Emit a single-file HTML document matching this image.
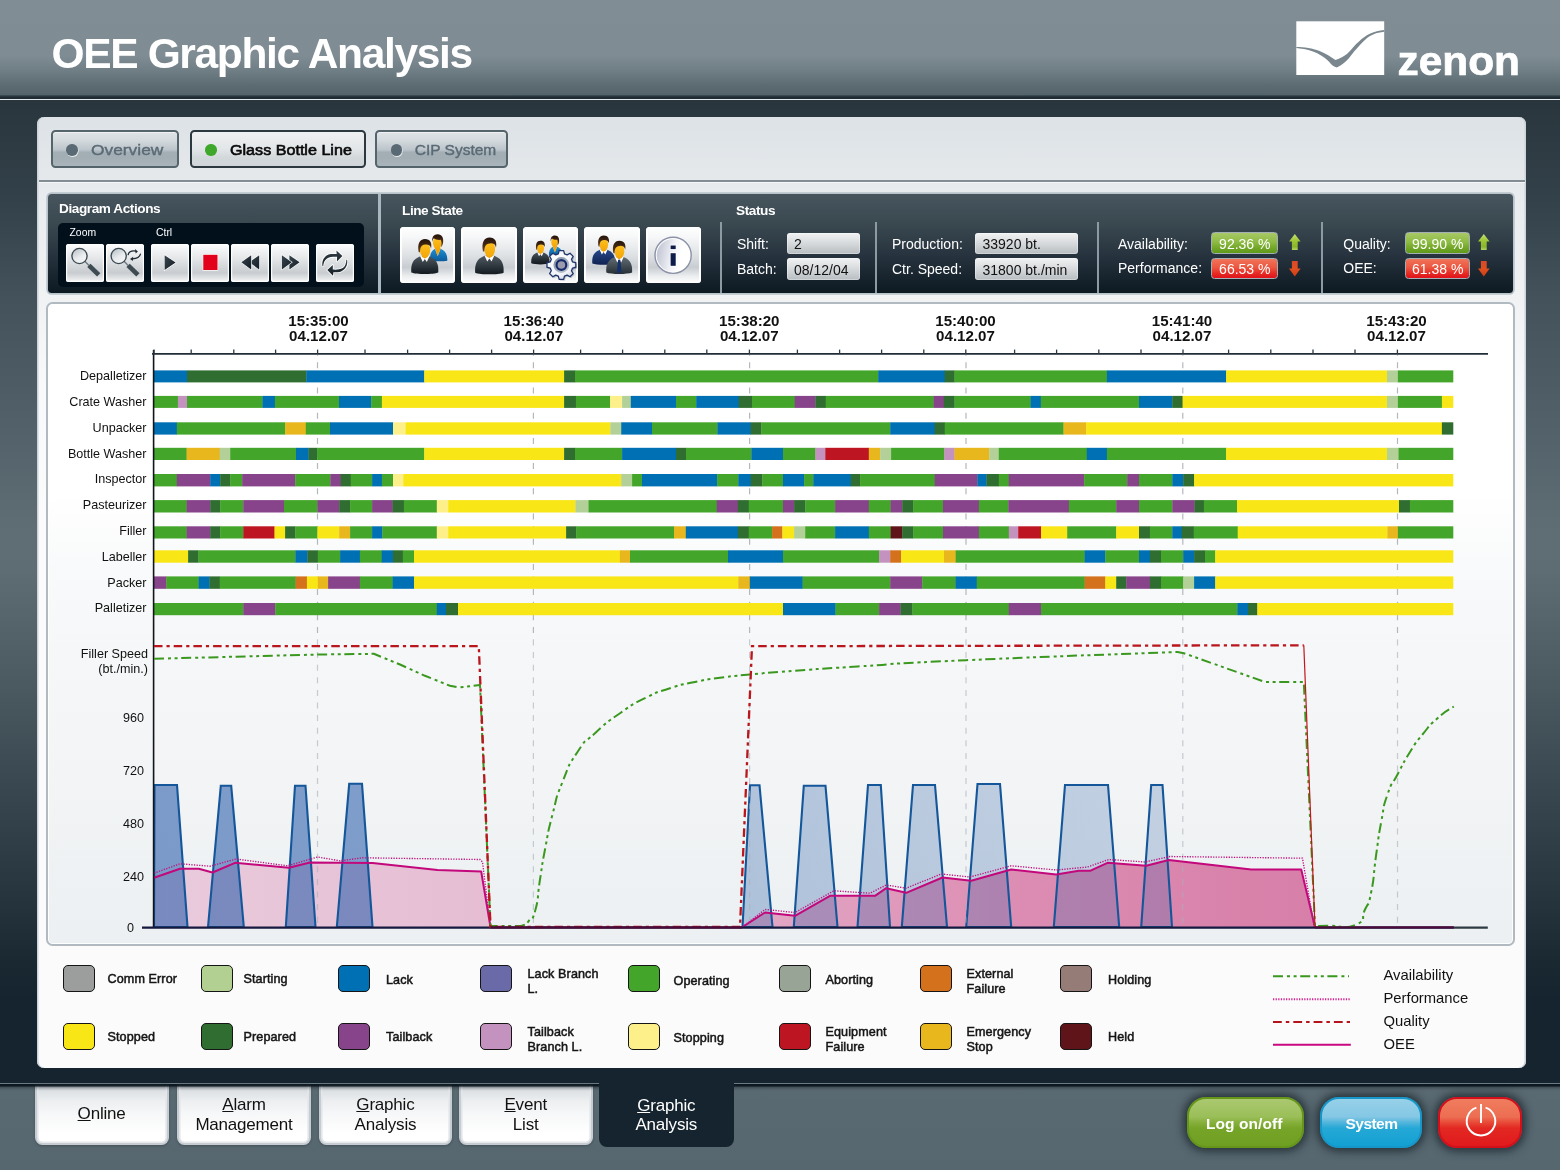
<!DOCTYPE html>
<html><head><meta charset="utf-8"><title>OEE Graphic Analysis</title>
<style>
html,body{margin:0;padding:0}
body{width:1560px;height:1170px;overflow:hidden;position:relative;background:#566770;font-family:"Liberation Sans",sans-serif;}
div,span{box-sizing:border-box}
#wrap{position:absolute;left:0;top:0;width:1560px;height:1170px;will-change:transform}
#hdr{position:absolute;left:0;top:0;width:1560px;height:96px;background:linear-gradient(#808d94 0,#7f8c93 56px,#6e7c83 72px,#5d6b72 85px,#54646b 96px)}
#hdrline1{position:absolute;left:0;top:95.3px;width:1560px;height:3.3px;background:linear-gradient(#46555d 0,#222f37 45%,#1c2931 100%)}
#hdrline2{position:absolute;left:0;top:98.5px;width:1560px;height:1.7px;background:#e3eaed}
#darkbg{position:absolute;left:0;top:100px;width:1560px;height:982.5px;background:linear-gradient(#28353d 0,#2a373f 12px,#33414a 100px,#44525b 200px,#4e5d65 290px,#5f6e75 430px,#5e6d74 470px,#4a5860 590px,#38464f 692px,#27353e 795px,#1a2832 863px,#15242e 900px,#15242e 100%)}
#botline{position:absolute;left:0;top:1082.6px;width:1560px;height:1.3px;background:#6a7c85}
#botshadow{position:absolute;left:0;top:1083.9px;width:1560px;height:7px;background:linear-gradient(rgba(8,18,26,.97) 0,rgba(10,20,28,.92) 2px,rgba(16,28,36,.35) 3.2px,rgba(20,32,40,.12) 5px,rgba(20,32,40,0) 100%)}
#botbar{position:absolute;left:0;top:1084px;width:1560px;height:86px;background:linear-gradient(#5a6a72,#566770)}
#title{position:absolute;left:51.5px;top:29.5px;font-size:42.5px;font-weight:bold;color:#fff;line-height:48px;white-space:nowrap;letter-spacing:-1.35px}
#panel{position:absolute;left:37px;top:117px;width:1489.3px;height:951px;border-radius:7px;background:linear-gradient(#dde2e6 0,#e5e9ec 64px,#e9ecee 80px,#f0f2f4 183px,#f8f9fb 273px,#fbfbfb 400px,#fbfbfb 100%);box-shadow:inset 1.5px 0 0 #cbd2d9,inset -1.5px 0 0 #cbd2d9}
.tab{position:absolute;top:130.1px;height:37.6px;border:2px solid #55636b;border-radius:4.5px;background:linear-gradient(#dfe3e6 0,#d3d9dd 25%,#bcc5cb 52%,#a3aeb5 60%,#a2adb4 75%,#aab4bb 100%);box-shadow:inset 0 1px 0 #eef1f2}
.tab.act{background:linear-gradient(#eef0f1 0,#e3e6e8 50%,#d3d8db 75%,#cfd5d8 100%);border-color:#2c3840;border-width:2px}
.tab .dot{position:absolute;left:13.4px;top:12.3px;width:11.4px;height:11.4px;border-radius:50%;background:#5a6a74;box-shadow:0.6px 1px 0 rgba(255,255,255,.75)}
.tab .dot.g{background:#3fa72a;left:13px;box-shadow:none}
.tab .tl{position:absolute;top:8px;font-size:15.5px;line-height:20px;color:#5a6a74;white-space:nowrap;-webkit-text-stroke:0.4px #5a6a74;transform-origin:0 50%}
.tab.act .tl{color:#0a0a0a;-webkit-text-stroke:0.65px #0a0a0a}
#sep1{position:absolute;left:38.5px;top:180.3px;width:1486.5px;height:2.4px;background:linear-gradient(#828d93 0,#828d93 54%,#f6f7f8 54%,#f6f7f8 100%)}
#toolbar{position:absolute;left:47px;top:193px;width:1467px;height:100.5px}
#tbbg{position:absolute;left:1px;top:0.5px;width:1465px;height:99.5px;border-radius:3.5px;background:linear-gradient(#47565e 0,#3a4850 30%,#283540 60%,#0c1922 100%);box-shadow:0 0 0 1.7px #b7c2c9}
.vs{position:absolute;width:2px;background:#8e9aa1}
.th{position:absolute;font-size:13.6px;line-height:16px;font-weight:bold;color:#fff;white-space:nowrap;letter-spacing:-0.42px}
.sm{position:absolute;font-size:10.4px;line-height:12px;color:#fff;white-space:nowrap}
#dabox{position:absolute;left:10.5px;top:30px;width:306.5px;height:63.5px;border-radius:5px;background:#02101c}
.sbtn{position:absolute;top:51px;width:38px;height:37.5px;border-radius:2.5px;background:linear-gradient(#ffffff 0,#f3f4f5 14%,#e4e6e8 38%,#d3d7da 60%,#c8ccd0 76%,#e2e4e6 90%,#f6f6f7 100%);box-shadow:inset 0 0 0 1.2px rgba(255,255,255,.92)}
.sbtn svg,.bbtn svg{position:absolute;left:0;top:0}
.bbtn{position:absolute;top:34px;width:55.5px;height:56px;border-radius:3.5px;background:linear-gradient(#ffffff 0,#f6f7f8 18%,#dfe2e5 50%,#c8cdd2 72%,#eceeef 88%,#ffffff 100%);box-shadow:inset 2px 0 0 rgba(255,255,255,.9),inset -2px 0 0 rgba(255,255,255,.9)}
.lb{position:absolute;font-size:14px;line-height:16px;color:#fff;white-space:nowrap}
.fld{position:absolute;height:21.5px;border-radius:3px;background:linear-gradient(#f1f2f3 0,#d9dcde 45%,#b7bdc1 100%);box-shadow:inset 0 0 0 1px rgba(255,255,255,.35)}
.fld span{position:absolute;left:8px;top:3.5px;font-size:14px;line-height:16px;color:#111;white-space:nowrap}
.bdg{position:absolute;height:21.5px;border-radius:3.5px;border:1.2px solid #a3aeb5;color:#fff;font-size:14px;line-height:21px;text-align:center;white-space:nowrap;padding-top:0.5px}
.bdg.gr{background:linear-gradient(#a8c966 0,#8ebb45 45%,#73a628 75%,#5f9a19 100%)}
.bdg.rd{background:linear-gradient(#f0755a 0,#eb5640 45%,#e52c24 75%,#e0121a 100%)}
#chart{position:absolute;left:45.6px;top:302.1px;width:1469.8px;height:643.7px;border-radius:6.5px;border:2px solid #b1bac1;background:linear-gradient(#ffffff 0,#ffffff 190px,#f9fafb 260px,#f6f7f8 345px,#f2f4f5 480px,#ecf0f2 100%);box-shadow:inset 0 0 0 1px rgba(255,255,255,.9)}
#csvg{position:absolute;left:0;top:0}
#csvg text{font-family:"Liberation Sans",sans-serif}
.lg{position:absolute;width:32px;height:26.5px;border:1.3px solid #151515;border-radius:5px}
.lt{position:absolute;font-size:12.6px;line-height:15px;font-weight:normal;color:#151515;white-space:nowrap;-webkit-text-stroke:0.5px #151515;letter-spacing:0.1px}
.ll{position:absolute;font-size:14.8px;line-height:18px;color:#111;white-space:nowrap}
.nb{position:absolute;top:1084px;height:61px;border-radius:0 0 7.5px 7.5px;background:linear-gradient(#c6ccd1 0,#dde1e4 12%,#eceef0 28%,#f6f7f8 50%,#ffffff 85%);border:2px solid #c6ccd1;border-top:none;box-shadow:inset 1.6px 0 0 #e2e6e9,inset -1.6px 0 0 #e2e6e9,inset 0 -1.6px 0 #e6e9eb,0 1px 3px rgba(0,0,0,.22);font-size:17px;line-height:19.5px;color:#111;text-align:center;letter-spacing:-0.2px}
.nb u{text-decoration-thickness:1.2px;text-underline-offset:1.2px}
.nb.act{background:#15242e;border:none;top:1082px;height:65px;color:#fff;border-radius:0 0 8px 8px;box-shadow:none}
.rb{position:absolute;top:1096.8px;height:50.8px;border-radius:19px;color:#fff;font-weight:bold;font-size:15.5px;text-align:center;line-height:50px;box-shadow:0 0 8px 3.5px rgba(16,26,32,.68)}

</style></head>
<body>
<div id="wrap">

<div id="hdr"></div>
<div id="hdrline1"></div><div id="hdrline2"></div>
<div id="darkbg"></div>
<div id="botline"></div>
<div id="botbar"></div>
<div id="title">OEE Graphic Analysis</div>

<svg id="logo" width="240" height="70" viewBox="1290 15 240 70" style="position:absolute;left:1290px;top:15px">
<rect x="1296.3" y="21.3" width="87.9" height="53.7" fill="#fff"/>
<path d="M1296.3,47 C1304,47 1313,48.5 1319,50.8 C1326,53.8 1331,57 1335.5,60 C1340,58.5 1344,56.5 1347.5,53.5 C1352,49 1355,44.5 1359,41.5 C1366,34.5 1374,31 1384.2,30 L1384.2,31.7 C1376,32.5 1370.5,35 1366,39 C1361,43.5 1357.5,48 1354.5,51 C1350,57 1345,64 1336.7,67.5 C1333,66.5 1331,64.5 1329.5,62.3 C1327,59.5 1324,57.5 1321.5,55.8 C1316,52.2 1310,50 1304,49 C1301,48.5 1298.5,48.2 1296.3,48 Z" fill="#7a878e"/>
<text x="1397.5" y="74.7" font-family="Liberation Sans,sans-serif" font-weight="bold" font-size="41.5" fill="#fff" stroke="#fff" stroke-width="0.7" textLength="122.5" lengthAdjust="spacingAndGlyphs">zenon</text>
</svg>
<div id="panel"></div>
<div class="tab" style="left:51.1px;width:127.6px"><span class="dot"></span><span class="tl" style="left:38px;transform:scaleX(1.12)">Overview</span></div>
<div class="tab act" style="left:190.4px;width:175.3px"><span class="dot g"></span><span class="tl" style="left:37.8px;transform:scaleX(1.04)">Glass Bottle Line</span></div>
<div class="tab" style="left:375.4px;width:132.2px"><span class="dot"></span><span class="tl" style="left:37.3px;transform:scaleX(1.0)">CIP System</span></div>
<div id="sep1"></div>
<div id="toolbar"><div id="tbbg"></div>
<div class="vs" style="left:331.3px;top:0.5px;height:99.5px;width:2.5px;background:#a9b7c0"></div>
<div class="vs" style="left:672.5px;top:29px;height:71px"></div>
<div class="vs" style="left:828px;top:29px;height:71px"></div>
<div class="vs" style="left:1049.5px;top:29px;height:71px"></div>
<div class="vs" style="left:1273.5px;top:29px;height:71px"></div>
<div class="th" style="left:12px;top:8px">Diagram Actions</div>
<div class="th" style="left:355px;top:10px">Line State</div>
<div class="th" style="left:689px;top:10px">Status</div>
<div id="dabox"></div>
<div class="sm" style="left:22.5px;top:34px">Zoom</div>
<div class="sm" style="left:109px;top:34px">Ctrl</div>
<div class="sbtn" style="left:19px"><svg width="38" height="38" viewBox="0 0 38 38"><defs><linearGradient id="gl135" x1="0.2" y1="0" x2="0.8" y2="1"><stop offset="0" stop-color="#b9c1c6"/><stop offset=".55" stop-color="#e9ecee"/><stop offset="1" stop-color="#f6f7f8"/></linearGradient></defs><line x1="18.6" y1="17.0" x2="23.0" y2="21.4" stroke="#6d7a82" stroke-width="1.4"/><line x1="22.9" y1="21.4" x2="32.7" y2="30.9" stroke="#3e4b53" stroke-width="4.7" stroke-linecap="butt"/><circle cx="13.5" cy="12.0" r="7.6" fill="url(#gl135)" stroke="#3b4850" stroke-width="1.35"/></svg></div>
<div class="sbtn" style="left:59px"><svg width="38" height="38" viewBox="0 0 38 38"><defs><linearGradient id="gl127" x1="0.2" y1="0" x2="0.8" y2="1"><stop offset="0" stop-color="#b9c1c6"/><stop offset=".55" stop-color="#e9ecee"/><stop offset="1" stop-color="#f6f7f8"/></linearGradient></defs><line x1="17.8" y1="17.0" x2="22.2" y2="21.4" stroke="#6d7a82" stroke-width="1.4"/><line x1="22.1" y1="21.4" x2="31.9" y2="30.9" stroke="#3e4b53" stroke-width="4.7" stroke-linecap="butt"/><circle cx="12.7" cy="12.0" r="7.6" fill="url(#gl127)" stroke="#3b4850" stroke-width="1.35"/><g fill="none" stroke="#1f2a32" stroke-width="1.25" stroke-linecap="round"><path d="M22.1,10.7 C22.9,8.2 25.6,6.6 29.6,7.1"/><path d="M34.4,10.2 C33.8,12.9 31,14.8 26.4,14.8"/></g><polygon points="29.0,4.9 31.9,7.5 29.7,9.4" fill="#1f2a32"/><polygon points="27.2,12.7 24.0,14.9 26.9,17.0" fill="#1f2a32"/></svg></div>
<div class="sbtn" style="left:103.8px"><svg width="38" height="38" viewBox="0 0 38 38"><defs><linearGradient id="tg" x1="0" y1="0" x2="1" y2="1"><stop offset="0" stop-color="#3a4750"/><stop offset="1" stop-color="#121b23"/></linearGradient></defs><polygon points="13.6,11.2 13.6,26 24.6,18.5" fill="url(#tg)" stroke="#fff" stroke-width="1.2" stroke-linejoin="miter" paint-order="stroke"/></svg></div>
<div class="sbtn" style="left:143.7px"><svg width="38" height="38" viewBox="0 0 38 38"><rect x="12.3" y="10.8" width="14.2" height="15.2" fill="#e2001a" stroke="#fff" stroke-width="1.2" paint-order="stroke"/></svg></div>
<div class="sbtn" style="left:184px"><svg width="38" height="38" viewBox="0 0 38 38"><defs><linearGradient id="tg" x1="0" y1="0" x2="1" y2="1"><stop offset="0" stop-color="#3a4750"/><stop offset="1" stop-color="#121b23"/></linearGradient></defs><polygon points="18.4,18.3 28.2,11.2 28.2,25.4" fill="url(#tg)" stroke="#fff" stroke-width="1.2" stroke-linejoin="miter" paint-order="stroke"/><polygon points="10.3,18.3 20.2,11.2 20.2,25.4" fill="url(#tg)" stroke="#fff" stroke-width="1.2" stroke-linejoin="miter" paint-order="stroke"/></svg></div>
<div class="sbtn" style="left:223.8px"><svg width="38" height="38" viewBox="0 0 38 38"><defs><linearGradient id="tg" x1="0" y1="0" x2="1" y2="1"><stop offset="0" stop-color="#3a4750"/><stop offset="1" stop-color="#121b23"/></linearGradient></defs><polygon points="18.4,11.2 18.4,25.4 28.6,18.3" fill="url(#tg)" stroke="#fff" stroke-width="1.2" stroke-linejoin="miter" paint-order="stroke"/><polygon points="10.9,11.2 10.9,25.4 20.7,18.3" fill="url(#tg)" stroke="#fff" stroke-width="1.2" stroke-linejoin="miter" paint-order="stroke"/></svg></div>
<div class="sbtn" style="left:268.7px"><svg width="38" height="38" viewBox="0 0 38 38"><defs><linearGradient id="rg" x1="0" y1="0" x2="0" y2="1"><stop offset="0" stop-color="#333f48"/><stop offset="1" stop-color="#151e26"/></linearGradient></defs><path d="M6.5,22.2 C5.6,17 8,12.6 12.5,10.6 C15,9.7 18,10 20.7,10 L20.4,6.4 L26.4,12 L20.9,17.5 L21.1,12.8 C18,12.6 14.5,12.6 11,14.4 C8.5,16 7.3,19 7.2,22.2 Z" fill="url(#rg)" stroke="#fff" stroke-width="1.6" stroke-linejoin="round" paint-order="stroke"/><path d="M31.1,15.8 C32,21 29.6,25.4 25.1,27.4 C22.6,28.3 19.6,28.2 17.4,28.2 L17,31.8 L11.3,26.1 L16.8,20.9 L16.8,25.6 C19.9,25.8 23.4,25.8 26.9,24 C29.4,22.4 30.2,19.4 30.3,15.8 Z" fill="url(#rg)" stroke="#fff" stroke-width="1.6" stroke-linejoin="round" paint-order="stroke"/></svg></div>
<div class="bbtn" style="left:352.7px"><svg width="56" height="56" viewBox="0 0 56 56"><defs><linearGradient id="bga1" x1="0" y1="0" x2="0" y2="1"><stop offset="0" stop-color="#1f8fd0"/><stop offset="1" stop-color="#0a5a9c"/></linearGradient><linearGradient id="ha1" x1="0" y1="0" x2="0" y2="1"><stop offset="0" stop-color="#24130a"/><stop offset=".6" stop-color="#4a2c17"/><stop offset="1" stop-color="#6e4927"/></linearGradient><linearGradient id="fa1" x1="0" y1="0" x2="0" y2="1"><stop offset="0" stop-color="#fdc323"/><stop offset="1" stop-color="#f4a605"/></linearGradient></defs><path d="M29.89,33.73 C29.66,27.88 31.06,23.98 34.96,21.87 L37.69,29.05 L40.58,21.87 C45.10,23.59 47.60,27.10 47.28,33.73 C43.54,34.43 34.18,34.43 29.89,33.73 Z" fill="url(#bga1)"/><path d="M34.96,21.87 L37.69,29.05 L40.58,21.87 L39.33,18.52 L35.74,18.52 Z" fill="#f2a40a"/><ellipse cx="37.30" cy="15.87" rx="4.37" ry="6.08" fill="url(#fa1)"/><path d="M32.31,15.01 C31.53,10.33 33.79,7.37 37.69,7.37 C41.98,7.37 43.85,11.11 43.07,15.79 C42.76,18.13 41.82,19.46 40.89,20.08 C41.67,17.35 41.67,14.62 40.73,12.75 C38.47,13.22 35.35,12.44 33.87,11.19 C32.93,12.12 32.46,13.45 32.31,15.01 Z" fill="url(#ha1)"/><defs><linearGradient id="bga2" x1="0" y1="0" x2="0" y2="1"><stop offset="0" stop-color="#4d575e"/><stop offset="1" stop-color="#121a20"/></linearGradient><linearGradient id="ha2" x1="0" y1="0" x2="0" y2="1"><stop offset="0" stop-color="#24130a"/><stop offset=".6" stop-color="#4a2c17"/><stop offset="1" stop-color="#6e4927"/></linearGradient><linearGradient id="fa2" x1="0" y1="0" x2="0" y2="1"><stop offset="0" stop-color="#fdc323"/><stop offset="1" stop-color="#f4a605"/></linearGradient></defs><path d="M11.31,45.41 C10.76,37.51 12.71,32.40 19.22,29.70 L20.52,29.14 L29.08,29.14 L30.38,29.70 C36.89,32.40 38.84,37.51 38.29,45.41 C33.17,47.46 16.43,47.46 11.31,45.41 Z" fill="url(#bga2)"/><path d="M19.96,28.77 L22.75,34.91 L24.80,31.93 L26.85,34.91 L29.64,28.77 L24.80,30.07 Z" fill="#fff"/><path d="M22.01,26.35 L27.59,26.35 L27.59,30.07 L24.80,31.56 L22.01,30.07 Z" fill="#e79c0c"/><ellipse cx="25.08" cy="23.00" rx="5.12" ry="7.53" fill="url(#fa2)"/><path d="M18.66,25.05 C17.17,17.05 19.69,12.12 24.99,12.12 C30.19,12.12 32.24,16.12 31.03,21.70 C30.57,18.91 28.89,17.42 25.54,17.61 C22.38,17.70 20.62,19.28 20.24,22.16 C20.06,23.56 20.06,24.49 19.87,25.61 Z" fill="url(#ha2)"/></svg></div>
<div class="bbtn" style="left:414px"><svg width="56" height="56" viewBox="0 0 56 56"><defs><linearGradient id="bgb1" x1="0" y1="0" x2="0" y2="1"><stop offset="0" stop-color="#525c63"/><stop offset="1" stop-color="#131b21"/></linearGradient><linearGradient id="hb1" x1="0" y1="0" x2="0" y2="1"><stop offset="0" stop-color="#24130a"/><stop offset=".6" stop-color="#4a2c17"/><stop offset="1" stop-color="#6e4927"/></linearGradient><linearGradient id="fb1" x1="0" y1="0" x2="0" y2="1"><stop offset="0" stop-color="#fdc323"/><stop offset="1" stop-color="#f4a605"/></linearGradient></defs><path d="M14.19,45.69 C13.60,37.36 15.66,31.97 22.52,29.13 L23.89,28.54 L32.91,28.54 L34.28,29.13 C41.14,31.97 43.20,37.36 42.61,45.69 C37.22,47.85 19.58,47.85 14.19,45.69 Z" fill="url(#bgb1)"/><path d="M23.30,28.15 L26.24,34.62 L28.40,31.48 L30.56,34.62 L33.50,28.15 L28.40,29.52 Z" fill="#fff"/><path d="M25.46,25.60 L31.34,25.60 L31.34,29.52 L28.40,31.09 L25.46,29.52 Z" fill="#e79c0c"/><ellipse cx="28.69" cy="22.07" rx="5.39" ry="7.94" fill="url(#fb1)"/><path d="M21.93,24.23 C20.36,15.80 23.01,10.61 28.60,10.61 C34.08,10.61 36.24,14.82 34.97,20.70 C34.48,17.76 32.71,16.19 29.18,16.39 C25.85,16.49 23.99,18.15 23.60,21.19 C23.40,22.66 23.40,23.64 23.21,24.82 Z" fill="url(#hb1)"/></svg></div>
<div class="bbtn" style="left:475.6px"><svg width="56" height="56" viewBox="0 0 56 56"><defs><linearGradient id="bgc1" x1="0" y1="0" x2="0" y2="1"><stop offset="0" stop-color="#1f8fd0"/><stop offset="1" stop-color="#0a5a9c"/></linearGradient><linearGradient id="hc1" x1="0" y1="0" x2="0" y2="1"><stop offset="0" stop-color="#24130a"/><stop offset=".6" stop-color="#4a2c17"/><stop offset="1" stop-color="#6e4927"/></linearGradient><linearGradient id="fc1" x1="0" y1="0" x2="0" y2="1"><stop offset="0" stop-color="#fdc323"/><stop offset="1" stop-color="#f4a605"/></linearGradient></defs><path d="M25.90,28.80 C25.72,24.30 26.80,21.30 29.80,19.68 L31.90,25.20 L34.12,19.68 C37.60,21.00 39.52,23.70 39.28,28.80 C36.40,29.34 29.20,29.34 25.90,28.80 Z" fill="url(#bgc1)"/><path d="M29.80,19.68 L31.90,25.20 L34.12,19.68 L33.16,17.10 L30.40,17.10 Z" fill="#f2a40a"/><ellipse cx="31.60" cy="15.06" rx="3.36" ry="4.68" fill="url(#fc1)"/><path d="M27.76,14.40 C27.16,10.80 28.90,8.52 31.90,8.52 C35.20,8.52 36.64,11.40 36.04,15.00 C35.80,16.80 35.08,17.82 34.36,18.30 C34.96,16.20 34.96,14.10 34.24,12.66 C32.50,13.02 30.10,12.42 28.96,11.46 C28.24,12.18 27.88,13.20 27.76,14.40 Z" fill="url(#hc1)"/><defs><linearGradient id="bgc2" x1="0" y1="0" x2="0" y2="1"><stop offset="0" stop-color="#4a545b"/><stop offset="1" stop-color="#10171d"/></linearGradient><linearGradient id="hc2" x1="0" y1="0" x2="0" y2="1"><stop offset="0" stop-color="#24130a"/><stop offset=".6" stop-color="#4a2c17"/><stop offset="1" stop-color="#6e4927"/></linearGradient><linearGradient id="fc2" x1="0" y1="0" x2="0" y2="1"><stop offset="0" stop-color="#fdc323"/><stop offset="1" stop-color="#f4a605"/></linearGradient></defs><path d="M8.26,36.36 C7.89,31.01 9.21,27.55 13.62,25.72 L14.50,25.34 L20.30,25.34 L21.18,25.72 C25.59,27.55 26.91,31.01 26.53,36.36 C23.07,37.75 11.73,37.75 8.26,36.36 Z" fill="url(#bgc2)"/><path d="M14.12,25.09 L16.01,29.25 L17.40,27.23 L18.79,29.25 L20.68,25.09 L17.40,25.97 Z" fill="#fff"/><path d="M15.51,23.45 L19.29,23.45 L19.29,25.97 L17.40,26.98 L15.51,25.97 Z" fill="#e79c0c"/><ellipse cx="17.59" cy="21.18" rx="3.46" ry="5.10" fill="url(#fc2)"/><path d="M13.24,22.57 C12.23,17.15 13.93,13.81 17.53,13.81 C21.05,13.81 22.44,16.52 21.62,20.30 C21.31,18.41 20.17,17.40 17.90,17.53 C15.76,17.59 14.56,18.66 14.31,20.62 C14.19,21.56 14.19,22.19 14.06,22.95 Z" fill="url(#hc2)"/><defs><radialGradient id="gg" cx=".38" cy=".32" r=".85"><stop offset="0" stop-color="#ffffff"/><stop offset=".62" stop-color="#f1f3f7"/><stop offset="1" stop-color="#bcc4d6"/></radialGradient><linearGradient id="gr2" x1="0" y1="0" x2="1" y2="1"><stop offset="0" stop-color="#7f8ca3"/><stop offset="1" stop-color="#c3cad6"/></linearGradient></defs><polygon points="49.58,34.91 52.82,35.75 52.82,40.25 49.58,41.09 48.49,43.72 50.19,46.61 47.01,49.79 44.12,48.09 41.49,49.18 40.65,52.42 36.15,52.42 35.31,49.18 32.68,48.09 29.79,49.79 26.61,46.61 28.31,43.72 27.22,41.09 23.98,40.25 23.98,35.75 27.22,34.91 28.31,32.28 26.61,29.39 29.79,26.21 32.68,27.91 35.31,26.82 36.15,23.58 40.65,23.58 41.49,26.82 44.12,27.91 47.01,26.21 50.19,29.39 48.49,32.28" fill="rgba(60,70,110,.25)" transform="translate(1.2,1.4)"/><polygon points="49.58,34.91 52.82,35.75 52.82,40.25 49.58,41.09 48.49,43.72 50.19,46.61 47.01,49.79 44.12,48.09 41.49,49.18 40.65,52.42 36.15,52.42 35.31,49.18 32.68,48.09 29.79,49.79 26.61,46.61 28.31,43.72 27.22,41.09 23.98,40.25 23.98,35.75 27.22,34.91 28.31,32.28 26.61,29.39 29.79,26.21 32.68,27.91 35.31,26.82 36.15,23.58 40.65,23.58 41.49,26.82 44.12,27.91 47.01,26.21 50.19,29.39 48.49,32.28" fill="url(#gg)" stroke="#22356b" stroke-width="1.3" stroke-linejoin="round"/><circle cx="38.4" cy="38.0" r="6.9" fill="none" stroke="url(#gr2)" stroke-width="2.1"/><circle cx="38.4" cy="38.0" r="4.9" fill="#9c9bae" stroke="#15296a" stroke-width="2.2"/></svg></div>
<div class="bbtn" style="left:537.1px"><svg width="56" height="56" viewBox="0 0 56 56"><defs><linearGradient id="bgd1" x1="0" y1="0" x2="0" y2="1"><stop offset="0" stop-color="#27488a"/><stop offset="1" stop-color="#0f2352"/></linearGradient><linearGradient id="hd1" x1="0" y1="0" x2="0" y2="1"><stop offset="0" stop-color="#24130a"/><stop offset=".6" stop-color="#4a2c17"/><stop offset="1" stop-color="#6e4927"/></linearGradient><linearGradient id="fd1" x1="0" y1="0" x2="0" y2="1"><stop offset="0" stop-color="#fdc323"/><stop offset="1" stop-color="#f4a605"/></linearGradient></defs><path d="M8.29,36.39 C7.82,29.76 9.46,25.47 14.92,23.21 L16.01,22.74 L23.19,22.74 L24.28,23.21 C29.74,25.47 31.38,29.76 30.91,36.39 C26.62,38.11 12.58,38.11 8.29,36.39 Z" fill="url(#bgd1)"/><path d="M15.54,22.43 L17.88,27.58 L19.60,25.08 L21.32,27.58 L23.66,22.43 L19.60,23.52 Z" fill="#fff"/><path d="M17.26,20.40 L21.94,20.40 L21.94,23.52 L19.60,24.77 L17.26,23.52 Z" fill="#e79c0c"/><ellipse cx="19.83" cy="17.59" rx="4.29" ry="6.32" fill="url(#fd1)"/><path d="M14.45,19.31 C13.20,12.60 15.31,8.47 19.76,8.47 C24.12,8.47 25.84,11.82 24.83,16.50 C24.44,14.16 23.03,12.91 20.22,13.07 C17.57,13.15 16.09,14.47 15.78,16.89 C15.62,18.06 15.62,18.84 15.47,19.78 Z" fill="url(#hd1)"/><defs><linearGradient id="bgd2" x1="0" y1="0" x2="0" y2="1"><stop offset="0" stop-color="#626d74"/><stop offset="1" stop-color="#262f35"/></linearGradient><linearGradient id="hd2" x1="0" y1="0" x2="0" y2="1"><stop offset="0" stop-color="#24130a"/><stop offset=".6" stop-color="#4a2c17"/><stop offset="1" stop-color="#6e4927"/></linearGradient><linearGradient id="fd2" x1="0" y1="0" x2="0" y2="1"><stop offset="0" stop-color="#fdc323"/><stop offset="1" stop-color="#f4a605"/></linearGradient></defs><path d="M22.30,45.49 C21.76,37.93 23.63,33.04 29.86,30.45 L31.11,29.92 L39.29,29.92 L40.54,30.45 C46.77,33.04 48.64,37.93 48.11,45.49 C43.21,47.45 27.19,47.45 22.30,45.49 Z" fill="url(#bgd2)"/><path d="M30.57,29.56 L33.24,35.44 L35.20,32.59 L37.16,35.44 L39.83,29.56 L35.20,30.81 Z" fill="#fff"/><path d="M34.13,32.77 L36.27,32.77 L37.43,44.16 L35.20,46.83 L32.98,44.16 Z" fill="#14306a"/><path d="M32.53,27.25 L37.87,27.25 L37.87,30.81 L35.20,32.23 L32.53,30.81 Z" fill="#e79c0c"/><ellipse cx="35.47" cy="24.05" rx="4.90" ry="7.21" fill="url(#fd2)"/><path d="M29.33,26.00 C27.90,18.35 30.31,13.63 35.38,13.63 C40.36,13.63 42.32,17.46 41.16,22.80 C40.72,20.13 39.12,18.71 35.91,18.88 C32.89,18.97 31.20,20.49 30.84,23.25 C30.66,24.58 30.66,25.47 30.48,26.54 Z" fill="url(#hd2)"/></svg></div>
<div class="bbtn" style="left:598.6px"><svg width="56" height="56" viewBox="0 0 56 56"><defs><linearGradient id="ig" x1="0" y1="0.3" x2="1" y2="0.5"><stop offset="0" stop-color="#bfc3d2"/><stop offset=".5" stop-color="#f2f3f7"/><stop offset=".75" stop-color="#ffffff"/></linearGradient></defs><circle cx="27.1" cy="28.3" r="18.1" fill="#fff" stroke="#8b91a6" stroke-width="1.4"/><circle cx="27.1" cy="28.3" r="16.4" fill="url(#ig)"/><rect x="24.6" y="18.5" width="5.1" height="3.6" fill="#0d1c49" stroke="#fff" stroke-width="1.4" paint-order="stroke"/><rect x="24.6" y="26.2" width="5.1" height="12.6" fill="#0d1c49" stroke="#fff" stroke-width="1.4" paint-order="stroke"/></svg></div>
<div class="lb" style="left:690px;top:43px">Shift:</div>
<div class="lb" style="left:690px;top:67.5px">Batch:</div>
<div class="lb" style="left:845px;top:43px">Production:</div>
<div class="lb" style="left:845px;top:67.5px">Ctr. Speed:</div>
<div class="lb" style="left:1071px;top:43px">Availability:</div>
<div class="lb" style="left:1071px;top:67px">Performance:</div>
<div class="lb" style="left:1296.3px;top:43px">Quality:</div>
<div class="lb" style="left:1296.3px;top:67px">OEE:</div>
<div class="fld" style="left:740px;top:39.5px;width:72.5px"><span style="left:7px">2</span></div>
<div class="fld" style="left:740px;top:65px;width:72.5px"><span style="left:7px">08/12/04</span></div>
<div class="fld" style="left:927.5px;top:39.5px;width:103.5px"><span style="left:8px">33920 bt.</span></div>
<div class="fld" style="left:927.5px;top:65px;width:103.5px"><span style="left:8px">31800 bt./min</span></div>
<div class="bdg gr" style="left:1164.3px;top:39.3px;width:67px">92.36 %</div>
<div class="bdg rd" style="left:1164.3px;top:64.8px;width:67px">66.53 %</div>
<div class="bdg gr" style="left:1358.4px;top:39.3px;width:64.6px">99.90 %</div>
<div class="bdg rd" style="left:1358.4px;top:64.8px;width:64.6px">61.38 %</div>
<svg width="12" height="17" style="position:absolute;left:1241.6px;top:40.9px"><defs><linearGradient id="ag" x1="0" y1="0" x2="0" y2="1"><stop offset="0" stop-color="#c3de72"/><stop offset=".45" stop-color="#9cc533"/><stop offset=".8" stop-color="#8ab52a"/><stop offset="1" stop-color="#b4d562"/></linearGradient></defs><polygon points="5.8,0 11.6,7.4 8.7,7.4 8.7,16 2.9,16 2.9,7.4 0,7.4" fill="url(#ag)"/></svg>
<svg width="12" height="17" style="position:absolute;left:1241.6px;top:67.9px"><defs><linearGradient id="ar" x1="0" y1="0" x2="0" y2="1"><stop offset="0" stop-color="#d9482a"/><stop offset=".5" stop-color="#e0501f"/><stop offset="1" stop-color="#cf3a14"/></linearGradient></defs><polygon points="2.9,0 8.7,0 8.7,7.6 11.6,7.6 5.8,15.6 0,7.6 2.9,7.6" fill="url(#ar)"/></svg>
<svg width="12" height="17" style="position:absolute;left:1430.6px;top:40.9px"><defs><linearGradient id="ag" x1="0" y1="0" x2="0" y2="1"><stop offset="0" stop-color="#c3de72"/><stop offset=".45" stop-color="#9cc533"/><stop offset=".8" stop-color="#8ab52a"/><stop offset="1" stop-color="#b4d562"/></linearGradient></defs><polygon points="5.8,0 11.6,7.4 8.7,7.4 8.7,16 2.9,16 2.9,7.4 0,7.4" fill="url(#ag)"/></svg>
<svg width="12" height="17" style="position:absolute;left:1430.6px;top:67.9px"><defs><linearGradient id="ar" x1="0" y1="0" x2="0" y2="1"><stop offset="0" stop-color="#d9482a"/><stop offset=".5" stop-color="#e0501f"/><stop offset="1" stop-color="#cf3a14"/></linearGradient></defs><polygon points="2.9,0 8.7,0 8.7,7.6 11.6,7.6 5.8,15.6 0,7.6 2.9,7.6" fill="url(#ar)"/></svg>
</div><div id="chart"></div><svg id="csvg" width="1560" height="960" viewBox="0 0 1560 960">
<defs>
<linearGradient id="pinkg" gradientUnits="userSpaceOnUse" x1="154" y1="0" x2="1315" y2="0">
<stop offset="0" stop-color="#e9cbdc"/><stop offset=".29" stop-color="#e6bdd3"/><stop offset=".5" stop-color="#e3a9c6"/><stop offset=".75" stop-color="#dc8cb2"/><stop offset="1" stop-color="#d77fa8"/></linearGradient>
<linearGradient id="blueg" gradientUnits="userSpaceOnUse" x1="154" y1="0" x2="1172" y2="0">
<stop offset="0" stop-color="#2d5fac" stop-opacity=".6"/><stop offset=".22" stop-color="#2d5fac" stop-opacity=".58"/><stop offset=".57" stop-color="#2a60a7" stop-opacity=".33"/><stop offset=".8" stop-color="#2d5fa5" stop-opacity=".27"/><stop offset="1" stop-color="#2d5fa5" stop-opacity=".24"/></linearGradient>
</defs>
<text x="318.5" y="325.7" text-anchor="middle" font-size="15.1" font-weight="bold" fill="#111">15:35:00</text>
<text x="318.5" y="340.9" text-anchor="middle" font-size="15.1" font-weight="bold" fill="#111">04.12.07</text>
<text x="533.8" y="325.7" text-anchor="middle" font-size="15.1" font-weight="bold" fill="#111">15:36:40</text>
<text x="533.8" y="340.9" text-anchor="middle" font-size="15.1" font-weight="bold" fill="#111">04.12.07</text>
<text x="749.3" y="325.7" text-anchor="middle" font-size="15.1" font-weight="bold" fill="#111">15:38:20</text>
<text x="749.3" y="340.9" text-anchor="middle" font-size="15.1" font-weight="bold" fill="#111">04.12.07</text>
<text x="965.5" y="325.7" text-anchor="middle" font-size="15.1" font-weight="bold" fill="#111">15:40:00</text>
<text x="965.5" y="340.9" text-anchor="middle" font-size="15.1" font-weight="bold" fill="#111">04.12.07</text>
<text x="1182" y="325.7" text-anchor="middle" font-size="15.1" font-weight="bold" fill="#111">15:41:40</text>
<text x="1182" y="340.9" text-anchor="middle" font-size="15.1" font-weight="bold" fill="#111">04.12.07</text>
<text x="1396.5" y="325.7" text-anchor="middle" font-size="15.1" font-weight="bold" fill="#111">15:43:20</text>
<text x="1396.5" y="340.9" text-anchor="middle" font-size="15.1" font-weight="bold" fill="#111">04.12.07</text>
<line x1="317.5" y1="355" x2="317.5" y2="640" stroke="#b4b8bc" stroke-width="1.2" stroke-dasharray="6,6.6" stroke-dashoffset="5.3"/>
<line x1="533.4" y1="355" x2="533.4" y2="640" stroke="#b4b8bc" stroke-width="1.2" stroke-dasharray="6,6.6" stroke-dashoffset="5.3"/>
<line x1="749.6" y1="355" x2="749.6" y2="640" stroke="#b4b8bc" stroke-width="1.2" stroke-dasharray="6,6.6" stroke-dashoffset="5.3"/>
<line x1="966" y1="355" x2="966" y2="640" stroke="#b4b8bc" stroke-width="1.2" stroke-dasharray="6,6.6" stroke-dashoffset="5.3"/>
<line x1="1182.8" y1="355" x2="1182.8" y2="640" stroke="#b4b8bc" stroke-width="1.2" stroke-dasharray="6,6.6" stroke-dashoffset="5.3"/>
<line x1="1397.5" y1="355" x2="1397.5" y2="640" stroke="#b4b8bc" stroke-width="1.2" stroke-dasharray="6,6.6" stroke-dashoffset="5.3"/>
<rect x="154" y="370.4" width="33.3" height="12" fill="#0070b4"/>
<rect x="187" y="370.4" width="119.6" height="12" fill="#2f6e30"/>
<rect x="306.3" y="370.4" width="118.2" height="12" fill="#0070b4"/>
<rect x="424.2" y="370.4" width="140.2" height="12" fill="#f9e616"/>
<rect x="564.1" y="370.4" width="11.2" height="12" fill="#2f6e30"/>
<rect x="575" y="370.4" width="303.5" height="12" fill="#43a62a"/>
<rect x="878.2" y="370.4" width="66.8" height="12" fill="#0070b4"/>
<rect x="944.7" y="370.4" width="10.1" height="12" fill="#2f6e30"/>
<rect x="954.5" y="370.4" width="152.7" height="12" fill="#43a62a"/>
<rect x="1106.9" y="370.4" width="119.5" height="12" fill="#0070b4"/>
<rect x="1226.1" y="370.4" width="161.2" height="12" fill="#f9e616"/>
<rect x="1387" y="370.4" width="11.2" height="12" fill="#b3d098"/>
<rect x="1397.9" y="370.4" width="55.4" height="12" fill="#43a62a"/>
<text x="146.5" y="380.2" text-anchor="end" font-size="12.6" fill="#111">Depalletizer</text>
<rect x="154" y="395.9" width="24.2" height="12" fill="#43a62a"/>
<rect x="177.9" y="395.9" width="9.4" height="12" fill="#c492bf"/>
<rect x="187" y="395.9" width="75.8" height="12" fill="#43a62a"/>
<rect x="262.5" y="395.9" width="12.7" height="12" fill="#0070b4"/>
<rect x="274.9" y="395.9" width="64.4" height="12" fill="#43a62a"/>
<rect x="339" y="395.9" width="32.5" height="12" fill="#0070b4"/>
<rect x="371.2" y="395.9" width="11" height="12" fill="#43a62a"/>
<rect x="381.9" y="395.9" width="182.5" height="12" fill="#f9e616"/>
<rect x="564.1" y="395.9" width="12.1" height="12" fill="#2f6e30"/>
<rect x="575.9" y="395.9" width="34.5" height="12" fill="#43a62a"/>
<rect x="610.1" y="395.9" width="12.3" height="12" fill="#fdf08a"/>
<rect x="622.1" y="395.9" width="9" height="12" fill="#b3d098"/>
<rect x="630.8" y="395.9" width="45.5" height="12" fill="#0070b4"/>
<rect x="676" y="395.9" width="20.5" height="12" fill="#43a62a"/>
<rect x="696.2" y="395.9" width="42.8" height="12" fill="#0070b4"/>
<rect x="738.7" y="395.9" width="13.6" height="12" fill="#2f6e30"/>
<rect x="752" y="395.9" width="43" height="12" fill="#43a62a"/>
<rect x="794.7" y="395.9" width="21" height="12" fill="#88448a"/>
<rect x="815.4" y="395.9" width="10.6" height="12" fill="#2f6e30"/>
<rect x="825.7" y="395.9" width="108.2" height="12" fill="#43a62a"/>
<rect x="933.6" y="395.9" width="10.5" height="12" fill="#88448a"/>
<rect x="943.8" y="395.9" width="11" height="12" fill="#2f6e30"/>
<rect x="954.5" y="395.9" width="76.4" height="12" fill="#43a62a"/>
<rect x="1030.6" y="395.9" width="10.5" height="12" fill="#0070b4"/>
<rect x="1040.8" y="395.9" width="98.5" height="12" fill="#43a62a"/>
<rect x="1139" y="395.9" width="33.6" height="12" fill="#0070b4"/>
<rect x="1172.3" y="395.9" width="10.6" height="12" fill="#2f6e30"/>
<rect x="1182.6" y="395.9" width="204.7" height="12" fill="#f9e616"/>
<rect x="1387" y="395.9" width="11.2" height="12" fill="#b3d098"/>
<rect x="1397.9" y="395.9" width="44.3" height="12" fill="#43a62a"/>
<rect x="1441.9" y="395.9" width="11.4" height="12" fill="#f9e616"/>
<text x="146.5" y="406" text-anchor="end" font-size="12.6" fill="#111">Crate Washer</text>
<rect x="154" y="422.3" width="23.1" height="12.3" fill="#0070b4"/>
<rect x="176.8" y="422.3" width="108.6" height="12.3" fill="#43a62a"/>
<rect x="285.1" y="422.3" width="21" height="12.3" fill="#e8b71e"/>
<rect x="305.8" y="422.3" width="24.5" height="12.3" fill="#43a62a"/>
<rect x="330" y="422.3" width="63.3" height="12.3" fill="#0070b4"/>
<rect x="393" y="422.3" width="13" height="12.3" fill="#fdf08a"/>
<rect x="405.7" y="422.3" width="204.9" height="12.3" fill="#f9e616"/>
<rect x="610.3" y="422.3" width="11.2" height="12.3" fill="#b3d098"/>
<rect x="621.2" y="422.3" width="31.1" height="12.3" fill="#0070b4"/>
<rect x="652" y="422.3" width="65.7" height="12.3" fill="#43a62a"/>
<rect x="717.4" y="422.3" width="33.6" height="12.3" fill="#0070b4"/>
<rect x="750.7" y="422.3" width="10.8" height="12.3" fill="#2f6e30"/>
<rect x="761.2" y="422.3" width="129.3" height="12.3" fill="#43a62a"/>
<rect x="890.2" y="422.3" width="44.8" height="12.3" fill="#0070b4"/>
<rect x="934.7" y="422.3" width="10.3" height="12.3" fill="#2f6e30"/>
<rect x="944.7" y="422.3" width="119.1" height="12.3" fill="#43a62a"/>
<rect x="1063.5" y="422.3" width="23" height="12.3" fill="#e8b71e"/>
<rect x="1086.2" y="422.3" width="356" height="12.3" fill="#f9e616"/>
<rect x="1441.9" y="422.3" width="11.4" height="12.3" fill="#2f6e30"/>
<text x="146.5" y="431.8" text-anchor="end" font-size="12.6" fill="#111">Unpacker</text>
<rect x="154" y="447.8" width="32.9" height="12.2" fill="#43a62a"/>
<rect x="186.6" y="447.8" width="33.4" height="12.2" fill="#e8b71e"/>
<rect x="219.7" y="447.8" width="10.8" height="12.2" fill="#b3d098"/>
<rect x="230.2" y="447.8" width="66.1" height="12.2" fill="#43a62a"/>
<rect x="296" y="447.8" width="12.8" height="12.2" fill="#0070b4"/>
<rect x="308.5" y="447.8" width="9" height="12.2" fill="#2f6e30"/>
<rect x="317.2" y="447.8" width="107.3" height="12.2" fill="#43a62a"/>
<rect x="424.2" y="447.8" width="140.2" height="12.2" fill="#f9e616"/>
<rect x="564.1" y="447.8" width="11.2" height="12.2" fill="#2f6e30"/>
<rect x="575" y="447.8" width="47.4" height="12.2" fill="#43a62a"/>
<rect x="622.1" y="447.8" width="54.2" height="12.2" fill="#0070b4"/>
<rect x="676" y="447.8" width="10.3" height="12.2" fill="#2f6e30"/>
<rect x="686" y="447.8" width="65.7" height="12.2" fill="#43a62a"/>
<rect x="751.4" y="447.8" width="31.9" height="12.2" fill="#0070b4"/>
<rect x="783" y="447.8" width="32.7" height="12.2" fill="#43a62a"/>
<rect x="815.4" y="447.8" width="10.2" height="12.2" fill="#c492bf"/>
<rect x="825.3" y="447.8" width="43.8" height="12.2" fill="#bd1622"/>
<rect x="868.8" y="447.8" width="11.7" height="12.2" fill="#e8b71e"/>
<rect x="880.2" y="447.8" width="11.2" height="12.2" fill="#b3d098"/>
<rect x="891.1" y="447.8" width="53.5" height="12.2" fill="#43a62a"/>
<rect x="944.3" y="447.8" width="10.5" height="12.2" fill="#c492bf"/>
<rect x="954.5" y="447.8" width="35" height="12.2" fill="#e8b71e"/>
<rect x="989.2" y="447.8" width="9.9" height="12.2" fill="#b3d098"/>
<rect x="998.8" y="447.8" width="88.3" height="12.2" fill="#43a62a"/>
<rect x="1086.8" y="447.8" width="20.4" height="12.2" fill="#0070b4"/>
<rect x="1106.9" y="447.8" width="119.5" height="12.2" fill="#43a62a"/>
<rect x="1226.1" y="447.8" width="161.2" height="12.2" fill="#f9e616"/>
<rect x="1387" y="447.8" width="11.8" height="12.2" fill="#b3d098"/>
<rect x="1398.5" y="447.8" width="54.8" height="12.2" fill="#43a62a"/>
<text x="146.5" y="457.6" text-anchor="end" font-size="12.6" fill="#111">Bottle Washer</text>
<rect x="154" y="474" width="23.1" height="12.4" fill="#43a62a"/>
<rect x="176.8" y="474" width="33.7" height="12.4" fill="#88448a"/>
<rect x="210.2" y="474" width="10.3" height="12.4" fill="#0070b4"/>
<rect x="220.2" y="474" width="10.3" height="12.4" fill="#2f6e30"/>
<rect x="230.2" y="474" width="12.3" height="12.4" fill="#43a62a"/>
<rect x="242.2" y="474" width="53.3" height="12.4" fill="#88448a"/>
<rect x="295.2" y="474" width="35.4" height="12.4" fill="#43a62a"/>
<rect x="330.3" y="474" width="10.7" height="12.4" fill="#88448a"/>
<rect x="340.7" y="474" width="10.3" height="12.4" fill="#2f6e30"/>
<rect x="350.7" y="474" width="21.7" height="12.4" fill="#43a62a"/>
<rect x="372.1" y="474" width="10.1" height="12.4" fill="#0070b4"/>
<rect x="381.9" y="474" width="11.4" height="12.4" fill="#43a62a"/>
<rect x="393" y="474" width="10.6" height="12.4" fill="#fdf08a"/>
<rect x="403.3" y="474" width="218.2" height="12.4" fill="#f9e616"/>
<rect x="621.2" y="474" width="11.2" height="12.4" fill="#b3d098"/>
<rect x="632.1" y="474" width="10.2" height="12.4" fill="#43a62a"/>
<rect x="642" y="474" width="75.4" height="12.4" fill="#0070b4"/>
<rect x="717.1" y="474" width="21.5" height="12.4" fill="#43a62a"/>
<rect x="738.3" y="474" width="12.7" height="12.4" fill="#0070b4"/>
<rect x="750.7" y="474" width="11.9" height="12.4" fill="#2f6e30"/>
<rect x="762.3" y="474" width="21" height="12.4" fill="#43a62a"/>
<rect x="783" y="474" width="21.4" height="12.4" fill="#0070b4"/>
<rect x="804.1" y="474" width="9.5" height="12.4" fill="#43a62a"/>
<rect x="813.3" y="474" width="37.8" height="12.4" fill="#0070b4"/>
<rect x="850.8" y="474" width="9.6" height="12.4" fill="#2f6e30"/>
<rect x="860.1" y="474" width="74.9" height="12.4" fill="#43a62a"/>
<rect x="934.7" y="474" width="43" height="12.4" fill="#88448a"/>
<rect x="977.4" y="474" width="9.4" height="12.4" fill="#0070b4"/>
<rect x="986.5" y="474" width="12.6" height="12.4" fill="#2f6e30"/>
<rect x="998.8" y="474" width="10.3" height="12.4" fill="#43a62a"/>
<rect x="1008.8" y="474" width="75.7" height="12.4" fill="#88448a"/>
<rect x="1084.2" y="474" width="43.3" height="12.4" fill="#43a62a"/>
<rect x="1127.2" y="474" width="12.1" height="12.4" fill="#88448a"/>
<rect x="1139" y="474" width="33.6" height="12.4" fill="#43a62a"/>
<rect x="1172.3" y="474" width="11.2" height="12.4" fill="#0070b4"/>
<rect x="1183.2" y="474" width="11.2" height="12.4" fill="#2f6e30"/>
<rect x="1194.1" y="474" width="259.2" height="12.4" fill="#f9e616"/>
<text x="146.5" y="483.4" text-anchor="end" font-size="12.6" fill="#111">Inspector</text>
<rect x="154" y="500.1" width="32.9" height="12.4" fill="#43a62a"/>
<rect x="186.6" y="500.1" width="23.9" height="12.4" fill="#88448a"/>
<rect x="210.2" y="500.1" width="10.3" height="12.4" fill="#2f6e30"/>
<rect x="220.2" y="500.1" width="23.4" height="12.4" fill="#43a62a"/>
<rect x="243.3" y="500.1" width="41" height="12.4" fill="#88448a"/>
<rect x="284" y="500.1" width="33.7" height="12.4" fill="#43a62a"/>
<rect x="317.4" y="500.1" width="22.1" height="12.4" fill="#88448a"/>
<rect x="339.2" y="500.1" width="11.2" height="12.4" fill="#2f6e30"/>
<rect x="350.1" y="500.1" width="22.3" height="12.4" fill="#43a62a"/>
<rect x="372.1" y="500.1" width="20.8" height="12.4" fill="#88448a"/>
<rect x="392.6" y="500.1" width="11.6" height="12.4" fill="#2f6e30"/>
<rect x="403.9" y="500.1" width="33.2" height="12.4" fill="#43a62a"/>
<rect x="436.8" y="500.1" width="11.7" height="12.4" fill="#fdf08a"/>
<rect x="448.2" y="500.1" width="127.6" height="12.4" fill="#f9e616"/>
<rect x="575.5" y="500.1" width="13.3" height="12.4" fill="#b3d098"/>
<rect x="588.5" y="500.1" width="128.5" height="12.4" fill="#43a62a"/>
<rect x="716.7" y="500.1" width="21.4" height="12.4" fill="#88448a"/>
<rect x="737.8" y="500.1" width="11.2" height="12.4" fill="#2f6e30"/>
<rect x="748.7" y="500.1" width="34.6" height="12.4" fill="#43a62a"/>
<rect x="783" y="500.1" width="11.4" height="12.4" fill="#88448a"/>
<rect x="794.1" y="500.1" width="11.4" height="12.4" fill="#2f6e30"/>
<rect x="805.2" y="500.1" width="30.2" height="12.4" fill="#43a62a"/>
<rect x="835.1" y="500.1" width="34" height="12.4" fill="#88448a"/>
<rect x="868.8" y="500.1" width="22.1" height="12.4" fill="#43a62a"/>
<rect x="890.6" y="500.1" width="11.9" height="12.4" fill="#88448a"/>
<rect x="902.2" y="500.1" width="11.2" height="12.4" fill="#2f6e30"/>
<rect x="913.1" y="500.1" width="30.2" height="12.4" fill="#43a62a"/>
<rect x="943" y="500.1" width="36.2" height="12.4" fill="#88448a"/>
<rect x="978.9" y="500.1" width="29.7" height="12.4" fill="#43a62a"/>
<rect x="1008.3" y="500.1" width="60.9" height="12.4" fill="#88448a"/>
<rect x="1068.9" y="500.1" width="47.6" height="12.4" fill="#43a62a"/>
<rect x="1116.2" y="500.1" width="23.1" height="12.4" fill="#88448a"/>
<rect x="1139" y="500.1" width="33.6" height="12.4" fill="#43a62a"/>
<rect x="1172.3" y="500.1" width="22.5" height="12.4" fill="#88448a"/>
<rect x="1194.5" y="500.1" width="9.7" height="12.4" fill="#2f6e30"/>
<rect x="1203.9" y="500.1" width="33.4" height="12.4" fill="#43a62a"/>
<rect x="1237" y="500.1" width="162.3" height="12.4" fill="#f9e616"/>
<rect x="1399" y="500.1" width="11.2" height="12.4" fill="#2f6e30"/>
<rect x="1409.9" y="500.1" width="43.4" height="12.4" fill="#43a62a"/>
<text x="146.5" y="509.2" text-anchor="end" font-size="12.6" fill="#111">Pasteurizer</text>
<rect x="154" y="526.3" width="32.9" height="12.2" fill="#43a62a"/>
<rect x="186.6" y="526.3" width="23.9" height="12.2" fill="#88448a"/>
<rect x="210.2" y="526.3" width="10.3" height="12.2" fill="#2f6e30"/>
<rect x="220.2" y="526.3" width="23.4" height="12.2" fill="#43a62a"/>
<rect x="243.3" y="526.3" width="31.5" height="12.2" fill="#bd1622"/>
<rect x="274.5" y="526.3" width="10.9" height="12.2" fill="#f9e616"/>
<rect x="285.1" y="526.3" width="10.4" height="12.2" fill="#2f6e30"/>
<rect x="295.2" y="526.3" width="22.5" height="12.2" fill="#43a62a"/>
<rect x="317.4" y="526.3" width="22.1" height="12.2" fill="#f9e616"/>
<rect x="339.2" y="526.3" width="11.2" height="12.2" fill="#e8b71e"/>
<rect x="350.1" y="526.3" width="22.3" height="12.2" fill="#43a62a"/>
<rect x="372.1" y="526.3" width="10.5" height="12.2" fill="#0070b4"/>
<rect x="382.3" y="526.3" width="54.8" height="12.2" fill="#43a62a"/>
<rect x="436.8" y="526.3" width="11.7" height="12.2" fill="#fdf08a"/>
<rect x="448.2" y="526.3" width="118.2" height="12.2" fill="#f9e616"/>
<rect x="566.1" y="526.3" width="10.5" height="12.2" fill="#2f6e30"/>
<rect x="576.3" y="526.3" width="98" height="12.2" fill="#43a62a"/>
<rect x="674" y="526.3" width="12.1" height="12.2" fill="#e8b71e"/>
<rect x="685.8" y="526.3" width="52.3" height="12.2" fill="#0070b4"/>
<rect x="737.8" y="526.3" width="11.2" height="12.2" fill="#2f6e30"/>
<rect x="748.7" y="526.3" width="23.7" height="12.2" fill="#43a62a"/>
<rect x="772.1" y="526.3" width="10.5" height="12.2" fill="#d4711c"/>
<rect x="782.3" y="526.3" width="12.1" height="12.2" fill="#f9e616"/>
<rect x="794.1" y="526.3" width="11.4" height="12.2" fill="#b3d098"/>
<rect x="805.2" y="526.3" width="30.2" height="12.2" fill="#43a62a"/>
<rect x="835.1" y="526.3" width="34" height="12.2" fill="#0070b4"/>
<rect x="868.8" y="526.3" width="22.1" height="12.2" fill="#43a62a"/>
<rect x="890.6" y="526.3" width="11.9" height="12.2" fill="#5e1419"/>
<rect x="902.2" y="526.3" width="11.2" height="12.2" fill="#2f6e30"/>
<rect x="913.1" y="526.3" width="30.2" height="12.2" fill="#43a62a"/>
<rect x="943" y="526.3" width="36.2" height="12.2" fill="#88448a"/>
<rect x="978.9" y="526.3" width="30.2" height="12.2" fill="#43a62a"/>
<rect x="1008.8" y="526.3" width="9.7" height="12.2" fill="#c492bf"/>
<rect x="1018.2" y="526.3" width="23.1" height="12.2" fill="#bd1622"/>
<rect x="1041" y="526.3" width="26.5" height="12.2" fill="#f9e616"/>
<rect x="1067.2" y="526.3" width="49.3" height="12.2" fill="#43a62a"/>
<rect x="1116.2" y="526.3" width="23.1" height="12.2" fill="#f9e616"/>
<rect x="1139" y="526.3" width="11.2" height="12.2" fill="#2f6e30"/>
<rect x="1149.9" y="526.3" width="22.7" height="12.2" fill="#43a62a"/>
<rect x="1172.3" y="526.3" width="9.7" height="12.2" fill="#0070b4"/>
<rect x="1181.7" y="526.3" width="12.3" height="12.2" fill="#2f6e30"/>
<rect x="1193.7" y="526.3" width="44.3" height="12.2" fill="#43a62a"/>
<rect x="1237.7" y="526.3" width="150" height="12.2" fill="#f9e616"/>
<rect x="1387.4" y="526.3" width="10.8" height="12.2" fill="#e8b71e"/>
<rect x="1397.9" y="526.3" width="55.4" height="12.2" fill="#43a62a"/>
<text x="146.5" y="535" text-anchor="end" font-size="12.6" fill="#111">Filler</text>
<rect x="154" y="550.3" width="34.4" height="12.4" fill="#f9e616"/>
<rect x="188.1" y="550.3" width="10.6" height="12.4" fill="#2f6e30"/>
<rect x="198.4" y="550.3" width="97.3" height="12.4" fill="#43a62a"/>
<rect x="295.4" y="550.3" width="12.3" height="12.4" fill="#0070b4"/>
<rect x="307.4" y="550.3" width="10.7" height="12.4" fill="#2f6e30"/>
<rect x="317.8" y="550.3" width="22.6" height="12.4" fill="#43a62a"/>
<rect x="340.1" y="550.3" width="20.1" height="12.4" fill="#0070b4"/>
<rect x="359.9" y="550.3" width="22.1" height="12.4" fill="#43a62a"/>
<rect x="381.7" y="550.3" width="11.6" height="12.4" fill="#0070b4"/>
<rect x="393" y="550.3" width="10.1" height="12.4" fill="#2f6e30"/>
<rect x="402.8" y="550.3" width="11.5" height="12.4" fill="#43a62a"/>
<rect x="414" y="550.3" width="206.2" height="12.4" fill="#f9e616"/>
<rect x="619.9" y="550.3" width="10.4" height="12.4" fill="#e8b71e"/>
<rect x="630" y="550.3" width="98.3" height="12.4" fill="#43a62a"/>
<rect x="728" y="550.3" width="55.3" height="12.4" fill="#0070b4"/>
<rect x="783" y="550.3" width="96.4" height="12.4" fill="#43a62a"/>
<rect x="879.1" y="550.3" width="11.4" height="12.4" fill="#c492bf"/>
<rect x="890.2" y="550.3" width="11.2" height="12.4" fill="#d4711c"/>
<rect x="901.1" y="550.3" width="43.2" height="12.4" fill="#f9e616"/>
<rect x="944" y="550.3" width="11.9" height="12.4" fill="#e8b71e"/>
<rect x="955.6" y="550.3" width="129.3" height="12.4" fill="#43a62a"/>
<rect x="1084.6" y="550.3" width="21" height="12.4" fill="#0070b4"/>
<rect x="1105.3" y="550.3" width="34" height="12.4" fill="#43a62a"/>
<rect x="1139" y="550.3" width="11.2" height="12.4" fill="#0070b4"/>
<rect x="1149.9" y="550.3" width="11.4" height="12.4" fill="#2f6e30"/>
<rect x="1161" y="550.3" width="22.5" height="12.4" fill="#43a62a"/>
<rect x="1183.2" y="550.3" width="11.2" height="12.4" fill="#0070b4"/>
<rect x="1194.1" y="550.3" width="11.2" height="12.4" fill="#2f6e30"/>
<rect x="1205" y="550.3" width="10.5" height="12.4" fill="#43a62a"/>
<rect x="1215.2" y="550.3" width="238.1" height="12.4" fill="#f9e616"/>
<text x="146.5" y="560.8" text-anchor="end" font-size="12.6" fill="#111">Labeller</text>
<rect x="154" y="576.4" width="12.6" height="12.4" fill="#88448a"/>
<rect x="166.3" y="576.4" width="32.6" height="12.4" fill="#43a62a"/>
<rect x="198.6" y="576.4" width="11.2" height="12.4" fill="#0070b4"/>
<rect x="209.5" y="576.4" width="10.5" height="12.4" fill="#2f6e30"/>
<rect x="219.7" y="576.4" width="76.2" height="12.4" fill="#43a62a"/>
<rect x="295.6" y="576.4" width="11.6" height="12.4" fill="#d4711c"/>
<rect x="306.9" y="576.4" width="11.2" height="12.4" fill="#f9e616"/>
<rect x="317.8" y="576.4" width="10.6" height="12.4" fill="#e8b71e"/>
<rect x="328.1" y="576.4" width="32.1" height="12.4" fill="#88448a"/>
<rect x="359.9" y="576.4" width="33" height="12.4" fill="#43a62a"/>
<rect x="392.6" y="576.4" width="21.7" height="12.4" fill="#0070b4"/>
<rect x="414" y="576.4" width="324.6" height="12.4" fill="#f9e616"/>
<rect x="738.3" y="576.4" width="11.8" height="12.4" fill="#e8b71e"/>
<rect x="749.8" y="576.4" width="53.1" height="12.4" fill="#0070b4"/>
<rect x="802.6" y="576.4" width="87.9" height="12.4" fill="#43a62a"/>
<rect x="890.2" y="576.4" width="32.3" height="12.4" fill="#88448a"/>
<rect x="922.2" y="576.4" width="33.7" height="12.4" fill="#43a62a"/>
<rect x="955.6" y="576.4" width="21.4" height="12.4" fill="#0070b4"/>
<rect x="976.7" y="576.4" width="108.2" height="12.4" fill="#43a62a"/>
<rect x="1084.6" y="576.4" width="21" height="12.4" fill="#d4711c"/>
<rect x="1105.3" y="576.4" width="11.2" height="12.4" fill="#f9e616"/>
<rect x="1116.2" y="576.4" width="10.4" height="12.4" fill="#2f6e30"/>
<rect x="1126.3" y="576.4" width="23.9" height="12.4" fill="#88448a"/>
<rect x="1149.9" y="576.4" width="11.4" height="12.4" fill="#2f6e30"/>
<rect x="1161" y="576.4" width="22.5" height="12.4" fill="#43a62a"/>
<rect x="1183.2" y="576.4" width="11.2" height="12.4" fill="#b3d098"/>
<rect x="1194.1" y="576.4" width="21.4" height="12.4" fill="#0070b4"/>
<rect x="1215.2" y="576.4" width="238.1" height="12.4" fill="#f9e616"/>
<text x="146.5" y="586.6" text-anchor="end" font-size="12.6" fill="#111">Packer</text>
<rect x="154" y="603" width="89.6" height="12.2" fill="#43a62a"/>
<rect x="243.3" y="603" width="32.3" height="12.2" fill="#88448a"/>
<rect x="275.3" y="603" width="161.8" height="12.2" fill="#43a62a"/>
<rect x="436.8" y="603" width="9.5" height="12.2" fill="#0070b4"/>
<rect x="446" y="603" width="12.3" height="12.2" fill="#2f6e30"/>
<rect x="458" y="603" width="325.3" height="12.2" fill="#f9e616"/>
<rect x="783" y="603" width="52.8" height="12.2" fill="#0070b4"/>
<rect x="835.5" y="603" width="43.9" height="12.2" fill="#43a62a"/>
<rect x="879.1" y="603" width="21.7" height="12.2" fill="#88448a"/>
<rect x="900.5" y="603" width="12.2" height="12.2" fill="#2f6e30"/>
<rect x="912.4" y="603" width="96.7" height="12.2" fill="#43a62a"/>
<rect x="1008.8" y="603" width="32.5" height="12.2" fill="#88448a"/>
<rect x="1041" y="603" width="196.6" height="12.2" fill="#43a62a"/>
<rect x="1237.3" y="603" width="11" height="12.2" fill="#0070b4"/>
<rect x="1248" y="603" width="9.6" height="12.2" fill="#2f6e30"/>
<rect x="1257.3" y="603" width="196" height="12.2" fill="#f9e616"/>
<text x="146.5" y="612.4" text-anchor="end" font-size="12.6" fill="#111">Palletizer</text>
<polygon points="154,927 154,877.8 180,868.8 198.8,868.8 212.5,872.5 235,862.8 288.8,867.8 310,862.5 372.5,863 437.5,870 481.2,871.5 490.5,927 490.5,927" fill="url(#pinkg)"/>
<polygon points="742.5,927 742.5,927 765,912.5 795,915.8 830,895.8 875,895.8 886.2,888.2 906.2,892.8 942.5,877.5 971.2,880.8 1011.2,869.5 1056.2,874.5 1078.8,870.8 1090,870.8 1107.5,862.8 1146.2,865.8 1168.8,860 1251.2,869.5 1301.2,869.5 1315,927 1315,927" fill="url(#pinkg)"/>
<polygon points="154,927 154.5,785 177,785 187.5,927" fill="url(#blueg)" stroke="#14569a" stroke-width="2.1" stroke-linejoin="miter"/>
<polygon points="208,927 220.8,785.8 231.2,785.8 243.8,927" fill="url(#blueg)" stroke="#14569a" stroke-width="2.1" stroke-linejoin="miter"/>
<polygon points="285.8,927 295,785.8 305.5,785.8 315.5,927" fill="url(#blueg)" stroke="#14569a" stroke-width="2.1" stroke-linejoin="miter"/>
<polygon points="336.8,927 349.2,783.8 362,783.8 372.5,927" fill="url(#blueg)" stroke="#14569a" stroke-width="2.1" stroke-linejoin="miter"/>
<polygon points="742.5,927 750,785.2 759.5,785.2 772.5,927" fill="url(#blueg)" stroke="#14569a" stroke-width="2.1" stroke-linejoin="miter"/>
<polygon points="793.8,927 803.8,785.8 825.5,785.8 837.5,927" fill="url(#blueg)" stroke="#14569a" stroke-width="2.1" stroke-linejoin="miter"/>
<polygon points="857.5,927 868,785 880.8,785 890,927" fill="url(#blueg)" stroke="#14569a" stroke-width="2.1" stroke-linejoin="miter"/>
<polygon points="901.8,927 913,785 935,785 947,927" fill="url(#blueg)" stroke="#14569a" stroke-width="2.1" stroke-linejoin="miter"/>
<polygon points="966.2,927 977.5,784 1000,784 1011.2,927" fill="url(#blueg)" stroke="#14569a" stroke-width="2.1" stroke-linejoin="miter"/>
<polygon points="1053.8,927 1065,785 1108,785 1119.2,927" fill="url(#blueg)" stroke="#14569a" stroke-width="2.1" stroke-linejoin="miter"/>
<polygon points="1141.2,927 1151.2,785 1162.5,785 1172,927" fill="url(#blueg)" stroke="#14569a" stroke-width="2.1" stroke-linejoin="miter"/>
<line x1="317.5" y1="640" x2="317.5" y2="926" stroke="#aab0ba" stroke-opacity=".62" stroke-width="1.2" stroke-dasharray="6,6.6" stroke-dashoffset="0.5"/>
<line x1="533.4" y1="640" x2="533.4" y2="926" stroke="#aab0ba" stroke-opacity=".62" stroke-width="1.2" stroke-dasharray="6,6.6" stroke-dashoffset="0.5"/>
<line x1="749.6" y1="640" x2="749.6" y2="926" stroke="#aab0ba" stroke-opacity=".62" stroke-width="1.2" stroke-dasharray="6,6.6" stroke-dashoffset="0.5"/>
<line x1="966" y1="640" x2="966" y2="926" stroke="#aab0ba" stroke-opacity=".62" stroke-width="1.2" stroke-dasharray="6,6.6" stroke-dashoffset="0.5"/>
<line x1="1182.8" y1="640" x2="1182.8" y2="926" stroke="#aab0ba" stroke-opacity=".62" stroke-width="1.2" stroke-dasharray="6,6.6" stroke-dashoffset="0.5"/>
<line x1="1397.5" y1="640" x2="1397.5" y2="926" stroke="#aab0ba" stroke-opacity=".62" stroke-width="1.2" stroke-dasharray="6,6.6" stroke-dashoffset="0.5"/>
<polyline points="154,877.8 180,868.8 198.8,868.8 212.5,872.5 235,862.8 288.8,867.8 310,862.5 372.5,863 437.5,870 481.2,871.5 490.5,927" fill="none" stroke="#c2087b" stroke-width="2" stroke-linejoin="round"/>
<polyline points="742.5,927 765,912.5 795,915.8 830,895.8 875,895.8 886.2,888.2 906.2,892.8 942.5,877.5 971.2,880.8 1011.2,869.5 1056.2,874.5 1078.8,870.8 1090,870.8 1107.5,862.8 1146.2,865.8 1168.8,860 1251.2,869.5 1301.2,869.5 1315,927" fill="none" stroke="#c2087b" stroke-width="2" stroke-linejoin="round"/>
<polyline points="154,873.2 180,863.8 210,866.2 236.2,859 287.5,865.8 317.5,857 340,860.8 362.5,857.8 480,859.5 482.5,862 490.5,927" fill="none" stroke="#bd1680" stroke-width="1.35" stroke-dasharray="1.3,1.3"/>
<polyline points="742.5,927 765,909.5 795,912.5 833.8,890.8 870,893.2 886.2,885 906.2,888.2 941.2,874 970,877 1011.2,865.8 1056.2,870 1087.5,867 1108.8,859.5 1145,862 1170,856.5 1302.5,858.2 1314.2,927" fill="none" stroke="#bd1680" stroke-width="1.35" stroke-dasharray="1.3,1.3"/>
<line x1="153.6" y1="350" x2="153.6" y2="928" stroke="#10161b" stroke-width="1.6"/>
<line x1="152" y1="353.8" x2="1488" y2="353.8" stroke="#212d35" stroke-width="1.7"/>
<line x1="154" y1="349.6" x2="154" y2="354" stroke="#2b3942" stroke-width="1.3"/>
<line x1="191.2" y1="349.6" x2="191.2" y2="354" stroke="#2b3942" stroke-width="1.3"/>
<line x1="233.8" y1="349.6" x2="233.8" y2="354" stroke="#2b3942" stroke-width="1.3"/>
<line x1="275.6" y1="349.6" x2="275.6" y2="354" stroke="#2b3942" stroke-width="1.3"/>
<line x1="317.6" y1="349.6" x2="317.6" y2="354" stroke="#2b3942" stroke-width="1.3"/>
<line x1="365" y1="349.6" x2="365" y2="354" stroke="#2b3942" stroke-width="1.3"/>
<line x1="407.6" y1="349.6" x2="407.6" y2="354" stroke="#2b3942" stroke-width="1.3"/>
<line x1="449.6" y1="349.6" x2="449.6" y2="354" stroke="#2b3942" stroke-width="1.3"/>
<line x1="491.6" y1="349.6" x2="491.6" y2="354" stroke="#2b3942" stroke-width="1.3"/>
<line x1="533.6" y1="349.6" x2="533.6" y2="354" stroke="#2b3942" stroke-width="1.3"/>
<line x1="580.6" y1="349.6" x2="580.6" y2="354" stroke="#2b3942" stroke-width="1.3"/>
<line x1="622.6" y1="349.6" x2="622.6" y2="354" stroke="#2b3942" stroke-width="1.3"/>
<line x1="664.8" y1="349.6" x2="664.8" y2="354" stroke="#2b3942" stroke-width="1.3"/>
<line x1="706.8" y1="349.6" x2="706.8" y2="354" stroke="#2b3942" stroke-width="1.3"/>
<line x1="749.4" y1="349.6" x2="749.4" y2="354" stroke="#2b3942" stroke-width="1.3"/>
<line x1="797.4" y1="349.6" x2="797.4" y2="354" stroke="#2b3942" stroke-width="1.3"/>
<line x1="839.6" y1="349.6" x2="839.6" y2="354" stroke="#2b3942" stroke-width="1.3"/>
<line x1="881.6" y1="349.6" x2="881.6" y2="354" stroke="#2b3942" stroke-width="1.3"/>
<line x1="923.8" y1="349.6" x2="923.8" y2="354" stroke="#2b3942" stroke-width="1.3"/>
<line x1="965.8" y1="349.6" x2="965.8" y2="354" stroke="#2b3942" stroke-width="1.3"/>
<line x1="1014.6" y1="349.6" x2="1014.6" y2="354" stroke="#2b3942" stroke-width="1.3"/>
<line x1="1056.6" y1="349.6" x2="1056.6" y2="354" stroke="#2b3942" stroke-width="1.3"/>
<line x1="1098.8" y1="349.6" x2="1098.8" y2="354" stroke="#2b3942" stroke-width="1.3"/>
<line x1="1141" y1="349.6" x2="1141" y2="354" stroke="#2b3942" stroke-width="1.3"/>
<line x1="1183" y1="349.6" x2="1183" y2="354" stroke="#2b3942" stroke-width="1.3"/>
<line x1="1228.6" y1="349.6" x2="1228.6" y2="354" stroke="#2b3942" stroke-width="1.3"/>
<line x1="1270.8" y1="349.6" x2="1270.8" y2="354" stroke="#2b3942" stroke-width="1.3"/>
<line x1="1313" y1="349.6" x2="1313" y2="354" stroke="#2b3942" stroke-width="1.3"/>
<line x1="1355" y1="349.6" x2="1355" y2="354" stroke="#2b3942" stroke-width="1.3"/>
<line x1="1397.4" y1="349.6" x2="1397.4" y2="354" stroke="#2b3942" stroke-width="1.3"/>
<line x1="142" y1="927.6" x2="1454" y2="927.6" stroke="#15183f" stroke-width="2.4"/><line x1="1454" y1="927.6" x2="1487.8" y2="927.6" stroke="#2e3a42" stroke-width="2.4"/>
<path d="M154,658.8 L320,654.5 L373.8,653.8 L400,664.5 L425,675.8 L450,685.8 L458.8,687.5 L480,685 L490.5,926 L518,926 C520,925.67 520.4,926.73 524,925 C527.6,923.27 524.97,925.97 528.8,920.8 C532.63,915.63 531.77,923.27 535.5,909.5 C539.23,895.73 536.83,899.5 540,879.5 C543.17,859.5 540.83,871.17 545,849.5 C549.17,827.83 546.67,837 552.5,814.5 C558.33,792 554.17,802.83 562.5,782 C570.83,761.17 566.67,768.27 577.5,752 C588.33,735.73 580.83,746.13 595,733.2 C609.17,720.27 603.33,724.87 620,713.2 C636.67,701.53 628.33,706.53 645,698.2 C661.67,689.87 653.33,693.6 670,688.2 C686.67,682.8 678.33,685.47 695,682 C711.67,678.53 701.67,680.3 720,677.8 C738.33,675.3 725,676.83 750,674.5 C775,672.17 759.17,673.47 795,670.8 C830.83,668.13 800.43,670.03 857.5,666.5 C914.57,662.97 859.53,665.03 966.2,660.2 C1072.87,655.37 1107.07,654.73 1177.5,652 L1183.8,653.2 L1265,682 L1303.8,682 L1315,926 L1330,925.8 C1338.73,925.37 1344.53,929.93 1356.2,924.5 C1367.87,919.07 1360,920.33 1365,909.5 C1370,898.67 1367.47,910.33 1371.2,892 C1374.93,873.67 1372.87,877.83 1376.2,854.5 C1379.53,831.17 1377.43,842 1381.2,822 C1384.97,802 1382.07,810.33 1387.5,794.5 C1392.93,778.67 1390,788.67 1397.5,774.5 C1405,760.33 1401.67,765.33 1410,752 C1418.33,738.67 1413.33,745.77 1422.5,734.5 C1431.67,723.23 1427.07,727.53 1437.5,718.2 C1447.93,708.87 1448.37,710.4 1453.8,706.5" fill="none" stroke="#3a981f" stroke-width="2" stroke-dasharray="10,4,3,3.6,3,3.6" stroke-linejoin="round"/>
<polyline points="154,646.2 478.8,646.2 490.5,927 740,927 752,646.2 1303.8,645.3" fill="none" stroke="#b9161d" stroke-width="2.3" stroke-dasharray="8.5,4,3.2,4"/>
<polyline points="1303.8,645.3 1315,927" fill="none" stroke="#c4161c" stroke-width="1.2"/>
<line x1="490.5" y1="927.4" x2="742" y2="927.4" stroke="#4a0a3a" stroke-width="2.2"/>
<line x1="1315" y1="927.4" x2="1453.8" y2="927.4" stroke="#4a0a3a" stroke-width="2.2"/>
<text x="148" y="657.6" text-anchor="end" font-size="12.6" fill="#111">Filler Speed</text>
<text x="148" y="672.6" text-anchor="end" font-size="12.6" fill="#111">(bt./min.)</text>
<text x="144" y="721.6" text-anchor="end" font-size="12.6" fill="#111">960</text>
<text x="144" y="774.6" text-anchor="end" font-size="12.6" fill="#111">720</text>
<text x="144" y="827.6" text-anchor="end" font-size="12.6" fill="#111">480</text>
<text x="144" y="880.6" text-anchor="end" font-size="12.6" fill="#111">240</text>
<text x="134" y="932.3" text-anchor="end" font-size="12.6" fill="#111">0</text>
</svg><div class="lg" style="left:63px;top:965.3px;background:#9c9d9d"></div>
<div class="lt" style="left:107.5px;top:971.8px">Comm Error</div>
<div class="lg" style="left:201px;top:965.3px;background:#b3d093"></div>
<div class="lt" style="left:243.5px;top:972.3px">Starting</div>
<div class="lg" style="left:338px;top:965.3px;background:#0070b4"></div>
<div class="lt" style="left:386px;top:972.8px">Lack</div>
<div class="lg" style="left:480px;top:965.3px;background:#6a6aa9"></div>
<div class="lt" style="left:527.5px;top:966.5px">Lack Branch<br>L.</div>
<div class="lg" style="left:627.5px;top:965.3px;background:#43a62a"></div>
<div class="lt" style="left:673.5px;top:973.8px">Operating</div>
<div class="lg" style="left:779px;top:965.3px;background:#98a596"></div>
<div class="lt" style="left:825.5px;top:973.3px">Aborting</div>
<div class="lg" style="left:920px;top:965.3px;background:#d4711c"></div>
<div class="lt" style="left:966.5px;top:966.5px">External<br>Failure</div>
<div class="lg" style="left:1060px;top:965.3px;background:#957c77"></div>
<div class="lt" style="left:1108px;top:973.3px">Holding</div>
<div class="lg" style="left:63px;top:1023.3px;background:#f9e616"></div>
<div class="lt" style="left:107.5px;top:1029.8px">Stopped</div>
<div class="lg" style="left:201px;top:1023.3px;background:#2f6e30"></div>
<div class="lt" style="left:243.5px;top:1029.8px">Prepared</div>
<div class="lg" style="left:338px;top:1023.3px;background:#88448a"></div>
<div class="lt" style="left:386px;top:1029.8px">Tailback</div>
<div class="lg" style="left:480px;top:1023.3px;background:#c492bf"></div>
<div class="lt" style="left:527.5px;top:1024.5px">Tailback<br>Branch L.</div>
<div class="lg" style="left:627.5px;top:1023.3px;background:#fdf08a"></div>
<div class="lt" style="left:673.5px;top:1030.8px">Stopping</div>
<div class="lg" style="left:779px;top:1023.3px;background:#bd1622"></div>
<div class="lt" style="left:825.5px;top:1024.5px">Equipment<br>Failure</div>
<div class="lg" style="left:920px;top:1023.3px;background:#e8b71e"></div>
<div class="lt" style="left:966.5px;top:1024.5px">Emergency<br>Stop</div>
<div class="lg" style="left:1060px;top:1023.3px;background:#5e1419"></div>
<div class="lt" style="left:1108px;top:1030.3px">Held</div>
<svg width="90" height="80" viewBox="1268 970 90 80" style="position:absolute;left:1268px;top:970px"><line x1="1273" y1="976.2" x2="1349" y2="976.2" stroke="#3a981f" stroke-width="2" stroke-dasharray="10,4,3,3.6,3,3.6"/><line x1="1273" y1="999.2" x2="1350" y2="999.2" stroke="#d42a96" stroke-width="2" stroke-dasharray="1.3,1.3"/><line x1="1273" y1="1022" x2="1350" y2="1022" stroke="#b5131b" stroke-width="2.2" stroke-dasharray="8.8,4,3.5,4"/><line x1="1273" y1="1044.7" x2="1350.8" y2="1044.7" stroke="#c8087e" stroke-width="2"/></svg>
<div class="ll" style="left:1383.5px;top:965.5px">Availability</div>
<div class="ll" style="left:1383.5px;top:988.6px">Performance</div>
<div class="ll" style="left:1383.5px;top:1011.6px">Quality</div>
<div class="ll" style="left:1383.5px;top:1035px">OEE</div><div class="nb" style="left:34.6px;width:134px;padding-top:20px"><u>O</u>nline</div>
<div class="nb" style="left:177px;width:134px;padding-top:11.2px"><u>A</u>larm<br>Management</div>
<div class="nb" style="left:318.7px;width:133.5px;padding-top:11.2px"><u>G</u>raphic<br>Analysis</div>
<div class="nb" style="left:458.7px;width:134px;padding-top:11.2px"><u>E</u>vent<br>List</div>
<div id="botshadow"></div>
<div class="nb act" style="left:599px;width:134.5px;padding-top:13.5px"><u>G</u>raphic<br>Analysis</div>
<div class="rb" style="left:1187px;width:117px;background:linear-gradient(#abc970 0,#9abe58 38%,#86b03c 50%,#76a428 62%,#6f9f22 100%);border:2px solid #659619;letter-spacing:0.1px;text-indent:-2.5px">Log on/off</div>
<div class="rb" style="left:1320px;width:101.5px;background:linear-gradient(#97d0e9 0,#84c7e4 38%,#52b5dc 50%,#25a8d6 62%,#12a0d2 100%);border:2px solid #1697c9;letter-spacing:-0.55px;text-indent:1.5px">System</div>
<div class="rb" style="left:1438px;width:84px;background:linear-gradient(#f07c5e 0,#ed6e52 38%,#e84a38 50%,#e32822 62%,#e01a1c 100%);border:2.5px solid #d20f1b"><svg width="80" height="46" viewBox="0 0 80 46" style="position:absolute;left:-0.5px;top:-1.6px"><path d="M36.4,10.6 A14.3,14.3 0 1 0 45.6,10.6" fill="none" stroke="#fff" stroke-width="1.9"/><line x1="41" y1="7" x2="41" y2="26" stroke="#fff" stroke-width="1.9"/></svg></div>
</div>
</body></html>
